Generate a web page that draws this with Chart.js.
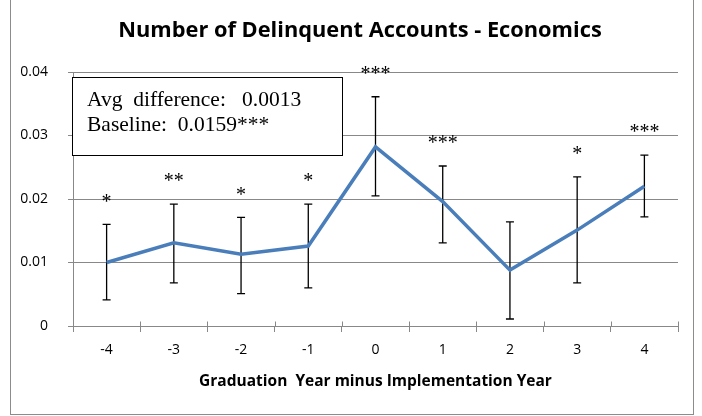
<!DOCTYPE html>
<html>
<head>
<meta charset="utf-8">
<script src="https://cdn.jsdelivr.net/npm/chart.js@4/dist/chart.umd.min.js"></script>
<style>
  html, body { margin: 0; padding: 0; background: #ffffff; }
  #wrap { width: 702px; height: 416px; position: relative; }
</style>
</head>
<body>
<div id="wrap"><canvas id="c" width="702" height="416"></canvas></div>
<script>
// ---- data ----
const categories = ['-4', '-3', '-2', '-1', '0', '1', '2', '3', '4'];
const meanValues = [0.0100, 0.0131, 0.0113, 0.0126, 0.0282, 0.0196, 0.0088, 0.0151, 0.0220];
const ciLower    = [0.0041, 0.0068, 0.0051, 0.0060, 0.0205, 0.0131, 0.0011, 0.0068, 0.0172];
const ciUpper    = [0.0160, 0.0192, 0.0171, 0.0192, 0.0361, 0.0252, 0.0164, 0.0235, 0.0269];
const sigStars   = ['*', '**', '*', '*', '***', '***', '', '*', '***'];
const yTickLabels = ['0', '0.01', '0.02', '0.03', '0.04'];
const chartTitle = 'Number of Delinquent Accounts - Economics';
const xAxisTitle = 'Graduation  Year minus Implementation Year';
const noteLines = ['Avg  difference:   0.0013', 'Baseline:  0.0159***'];

const AXIS_GRAY = '#888888';

const extrasPlugin = {
  id: 'extras',
  beforeDatasetsDraw(chart) {
    const ctx = chart.ctx;
    const xs = chart.scales.x, ys = chart.scales.y;
    ctx.save();
    ctx.strokeStyle = '#000000';
    ctx.lineWidth = 1.3;
    for (let i = 0; i < categories.length; i++) {
      const x = xs.getPixelForValue(i);
      const yl = ys.getPixelForValue(ciLower[i]);
      const yh = ys.getPixelForValue(ciUpper[i]);
      ctx.beginPath();
      ctx.moveTo(x, yl); ctx.lineTo(x, yh);
      ctx.moveTo(x - 4, yl); ctx.lineTo(x + 4, yl);
      ctx.moveTo(x - 4, yh); ctx.lineTo(x + 4, yh);
      ctx.stroke();
    }
    // upper half of the crossing x-axis tick marks
    ctx.strokeStyle = AXIS_GRAY;
    ctx.lineWidth = 1;
    const y0 = Math.round(ys.getPixelForValue(0)) + 0.5;
    const step = (xs.right - xs.left) / categories.length;
    for (let i = 0; i <= categories.length; i++) {
      const x = Math.round(xs.left + i * step) + 0.5;
      ctx.beginPath();
      ctx.moveTo(x, y0 - 5); ctx.lineTo(x, y0);
      ctx.stroke();
    }
    ctx.restore();
  },
  afterDraw(chart) {
    const ctx = chart.ctx;
    const xs = chart.scales.x, ys = chart.scales.y;
    ctx.save();
    // chart title
    ctx.fillStyle = '#000000';
    ctx.font = 'bold 21.8px "Open Sans"';
    ctx.textAlign = 'center';
    ctx.textBaseline = 'middle';
    ctx.fillText(chartTitle, 360, 31);
    // significance stars
    ctx.font = '20px "Liberation Serif", "Times New Roman", serif';
    for (let i = 0; i < categories.length; i++) {
      if (!sigStars[i]) continue;
      const x = xs.getPixelForValue(i);
      const yh = ys.getPixelForValue(ciUpper[i]);
      ctx.fillText(sigStars[i], x, yh - 22);
    }
    // note box
    const bx = 72.5, by = 77.5, bw = 270, bh = 78;
    ctx.fillStyle = '#ffffff';
    ctx.fillRect(bx, by, bw, bh);
    ctx.strokeStyle = '#000000';
    ctx.lineWidth = 1;
    ctx.strokeRect(bx, by, bw, bh);
    ctx.fillStyle = '#000000';
    ctx.font = '21.5px "Liberation Serif", "Times New Roman", serif';
    ctx.textAlign = 'left';
    ctx.textBaseline = 'alphabetic';
    ctx.fillText(noteLines[0], 87, 106);
    ctx.fillText(noteLines[1], 87, 131);
    // outer chart border
    ctx.strokeStyle = '#8c8c8c';
    ctx.lineWidth = 1;
    ctx.strokeRect(10.5, -2, 683, 416.5);
    ctx.restore();
  }
};

new Chart(document.getElementById('c'), {
  type: 'line',
  data: {
    labels: categories,
    datasets: [{
      data: meanValues,
      borderColor: '#4A7EBB',
      borderWidth: 3.5,
      pointRadius: 0,
      pointHoverRadius: 0,
      tension: 0,
      fill: false
    }]
  },
  options: {
    responsive: false,
    animation: false,
    events: [],
    layout: { padding: { left: 0, right: 24, top: 72, bottom: 0 } },
    plugins: {
      legend: { display: false },
      tooltip: { enabled: false },
      title: { display: false }
    },
    scales: {
      x: {
        type: 'category',
        offset: true,
        grid: {
          offset: true,
          drawOnChartArea: false,
          drawTicks: true,
          tickLength: 6,
          color: AXIS_GRAY,
          lineWidth: 1
        },
        border: { display: true, color: AXIS_GRAY, width: 1 },
        ticks: {
          color: '#000000',
          font: { family: '"Open Sans"', size: 14 },
          padding: 10,
          maxRotation: 0,
          autoSkip: false
        },
        title: {
          display: true,
          text: xAxisTitle,
          color: '#000000',
          font: { family: '"Open Sans"', size: 15.5, weight: 'bold', lineHeight: 1.2 },
          padding: { top: 0, bottom: 25 }
        },
        afterFit(scale) { scale.height = 90; }
      },
      y: {
        min: 0,
        max: 0.04,
        ticks: {
          stepSize: 0.01,
          color: '#000000',
          font: { family: '"Open Sans"', size: 14 },
          padding: 20,
          callback: (v, i) => yTickLabels[i]
        },
        grid: {
          color: AXIS_GRAY,
          lineWidth: 1,
          drawTicks: true,
          tickLength: 5
        },
        border: { display: true, color: AXIS_GRAY, width: 1 },
        afterFit(scale) { scale.width = 73; }
      }
    }
  },
  plugins: [extrasPlugin]
});
</script>
</body>
</html>
